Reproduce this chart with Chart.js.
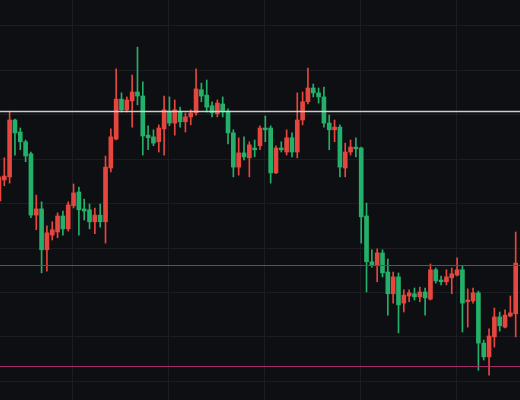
<!DOCTYPE html>
<html><head><meta charset="utf-8">
<script src="https://cdn.jsdelivr.net/npm/chart.js@4/dist/chart.umd.min.js"></script>
<style>html,body{margin:0;padding:0;background:#0e0f12;overflow:hidden}#wrap{width:520px;height:400px}</style>
</head><body><div id="wrap"><canvas id="c" width="520" height="400"></canvas></div>
<script>
// candle series (index of first candle = -1, partially off the left edge)
const firstIndex = -1;
const open = [140.6,145.3,146.0,158.8,156.1,153.9,151.2,137.4,138.8,129.6,132.9,133.6,137.2,134.3,139.5,142.6,138.8,138.6,135.9,137.4,135.9,148.0,154.5,163.5,161.1,163.1,165.1,164.2,155.4,155.0,153.9,156.8,160.8,158.1,160.8,158.4,159.5,160.4,165.6,164.4,162.0,160.2,162.4,160.8,155.9,148.2,151.4,150.3,152.5,153.0,157.0,157.0,146.9,152.5,151.6,154.8,151.6,158.8,162.9,166.0,164.9,164.0,158.1,156.6,157.2,148.0,151.6,152.7,152.5,137.2,126.9,126.0,128.9,124.6,119.7,123.5,117.6,119.2,119.7,119.0,120.1,118.5,125.1,122.8,122.4,123.3,123.9,125.1,117.9,118.1,119.9,108.6,105.5,110.0,114.5,112.2,114.7,115.2];
const high = [147.1,150.3,160.6,159.0,157.0,154.3,151.6,141.9,140.4,135.0,135.9,137.9,138.3,140.4,144.4,143.7,141.0,139.9,139.0,139.9,150.7,156.8,170.3,164.9,164.0,168.9,175.2,167.4,157.5,156.6,157.7,164.2,164.0,163.3,161.7,160.4,161.1,170.3,167.1,167.8,162.9,163.3,164.0,161.3,156.6,154.8,155.0,153.9,154.3,157.5,159.7,157.5,153.0,153.9,156.6,155.9,164.9,165.1,170.5,166.9,166.0,166.2,159.9,158.8,157.7,153.6,154.3,154.8,152.7,140.1,129.6,129.8,129.6,127.5,124.6,124.4,120.6,120.6,121.0,121.2,121.0,126.4,125.5,123.7,125.1,125.5,127.8,126.0,120.8,121.0,120.3,109.3,111.8,116.5,115.6,116.1,119.2,133.6];
const low = [139.7,144.0,144.6,150.9,152.1,149.4,136.8,134.1,124.4,124.8,131.8,132.3,132.9,133.8,139.0,132.9,136.3,134.3,133.2,134.7,131.1,147.1,154.3,160.6,160.6,157.2,162.2,150.9,152.1,153.0,151.6,150.9,157.5,155.4,157.2,156.1,157.7,159.9,162.9,160.6,159.5,159.5,159.5,153.4,146.0,146.4,149.8,146.0,150.5,152.1,153.9,144.6,146.7,151.6,150.9,150.5,150.3,157.7,162.4,164.0,162.6,157.2,152.1,153.9,146.0,146.0,150.9,150.5,131.1,120.1,125.7,122.4,123.5,114.9,117.6,110.9,115.6,117.9,118.3,117.9,114.9,118.3,122.1,121.7,121.7,119.7,123.7,111.1,112.2,117.6,102.5,104.8,101.4,107.7,111.3,112.0,114.5,110.0];
const close = [146.0,146.2,158.8,155.9,153.9,150.7,137.4,138.8,129.6,133.4,134.1,137.2,134.3,139.7,142.4,138.6,138.3,135.9,137.4,135.9,148.2,155.0,163.5,161.1,163.3,165.1,164.2,155.2,154.8,153.6,157.0,161.1,158.1,161.1,158.4,159.5,160.4,165.8,164.2,161.7,160.4,162.6,160.6,155.9,148.2,151.4,150.5,153.2,152.1,157.0,156.6,146.9,152.5,152.1,154.8,151.6,158.8,162.9,166.0,164.9,164.0,158.1,156.6,157.2,148.2,151.6,152.7,152.3,137.0,126.9,126.2,128.9,124.4,119.7,123.5,117.2,119.4,119.9,119.0,120.1,118.8,125.1,122.6,122.4,123.5,124.2,125.1,117.6,118.3,119.9,108.6,105.5,110.2,114.5,112.5,114.9,115.4,126.6];

// horizontal levels
const resistanceLevels = [160.8];
const supportLevels = [126.2, 103.4];

// axis grid values
const priceGrid = [100,110,120,130,140,150,160,170,180];
const timeGrid = [12.77, 30.82, 48.87, 66.92, 84.97];

const RED = '#e5473f', GREEN = '#23b06a';
const idx = open.map((_, k) => firstIndex + k);
const isUp = open.map((o, k) => close[k] > o);
const colorOf = c => isUp[c.dataIndex] ? RED : GREEN;

const levelsPlugin = {
  id: 'levels',
  afterDatasetsDraw(chart) {
    const {ctx, chartArea: a, scales: {y}} = chart;
    ctx.save();
    const draw = (v, col, w) => {
      const py = Math.round(y.getPixelForValue(v)) + 0.5;
      ctx.strokeStyle = col; ctx.lineWidth = w;
      ctx.beginPath(); ctx.moveTo(a.left, py); ctx.lineTo(a.right, py); ctx.stroke();
    };
    supportLevels.forEach(v => draw(v, '#a32b66', 1));
    resistanceLevels.forEach(v => draw(v, 'rgba(215,215,215,0.95)', 1.5));
    ctx.restore();
  }
};

new Chart(document.getElementById('c'), {
  type: 'bar',
  data: {
    datasets: [
      { data: idx.map((x, k) => ({x, y: [open[k], close[k]]})), barThickness: 4, minBarLength: 1,
        grouped: false, backgroundColor: colorOf, borderWidth: 0 },
      { data: idx.map((x, k) => ({x, y: [low[k], high[k]]})), barThickness: 1,
        grouped: false, backgroundColor: colorOf, borderWidth: 0 }
    ]
  },
  options: {
    responsive: false, animation: false,
    layout: {padding: 0},
    plugins: {legend: {display: false}, tooltip: {enabled: false}},
    scales: {
      x: { type: 'linear', min: -0.807, max: 96.81, offset: false,
           grid: {color: '#1c1d21', drawTicks: false, offset: false}, border: {display: false},
           ticks: {display: false},
           afterBuildTicks: a => { a.ticks = timeGrid.map(v => ({value: v})); } },
      y: { type: 'linear', min: 95.8, max: 185.8,
           grid: {color: '#1c1d21', drawTicks: false, offset: false}, border: {display: false},
           ticks: {display: false},
           afterBuildTicks: a => { a.ticks = priceGrid.map(v => ({value: v})); } }
    }
  },
  plugins: [levelsPlugin]
});
</script>
</body></html>
